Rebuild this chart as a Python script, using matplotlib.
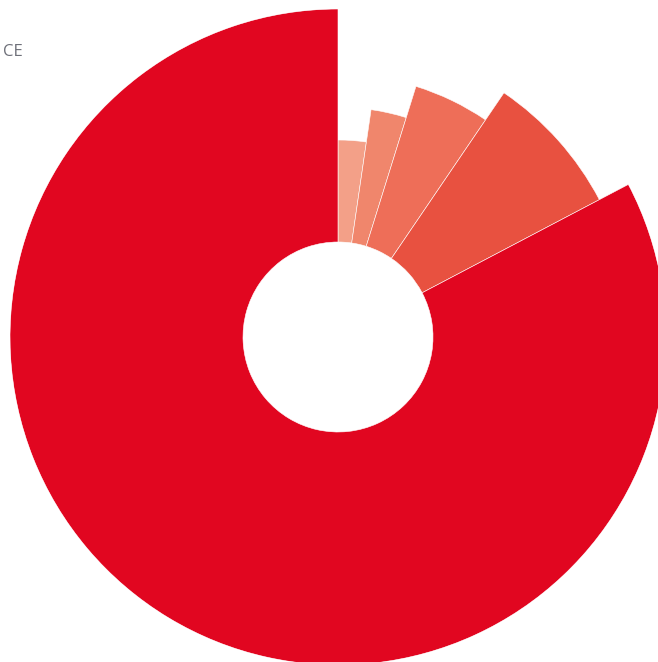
import numpy as np
import matplotlib
matplotlib.use("Agg")
import matplotlib.pyplot as plt

# slice values, clockwise from 12 o'clock
values = [2.3, 2.5, 4.7, 7.8, 82.7]
colors = ["#F3A088", "#F0866C", "#EE6E58", "#E85140", "#E10620"]

W, H = 658, 662
fig = plt.figure(figsize=(W / 100, H / 100), dpi=100)

# polar axes placed so the centre sits at (338, 337) px, outer radius 328 px
cx, cy, R = 338, 337, 328
ax = fig.add_axes([(cx - R) / W, (H - cy - R) / H, 2 * R / W, 2 * R / H],
                  projection="polar")
ax.set_theta_zero_location("N")
ax.set_theta_direction(-1)

vals = np.array(values)
widths = vals / vals.sum() * 2 * np.pi
starts = np.concatenate([[0], np.cumsum(widths)[:-1]])

# rose type: radius grows with rank of the value
inner = 95
rank = np.argsort(np.argsort(vals))
outer = 197 + rank * (R - 197) / (len(vals) - 1)

ax.bar(starts, outer - inner, width=widths, bottom=inner, align="edge",
       color=colors, edgecolor="white", linewidth=0.4)

ax.set_rlim(0, R)
ax.axis("off")

fig.text(23 / W, 1 - 52 / H, "CE", ha="right", va="center",
         fontsize=12, color="#6E7079", family="Open Sans")

fig.savefig("out.png", dpi=100)
